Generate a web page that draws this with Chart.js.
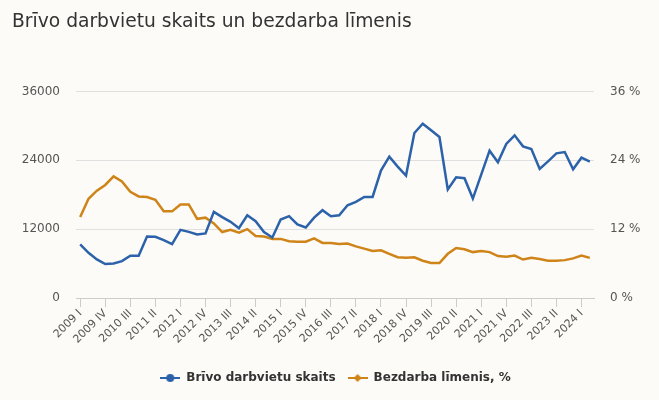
<!DOCTYPE html>
<html>
<head>
<meta charset="utf-8">
<script src="https://cdn.jsdelivr.net/npm/chart.js@4.4.1/dist/chart.umd.min.js"></script>
<style>
    html, body { margin: 0; padding: 0; background: #fcfbf7; }
</style>
</head>
<body>
<canvas id="jobsChart" width="659" height="400"></canvas>
<script>
// Data
const years = [2009, 2010, 2011, 2012, 2013, 2014, 2015, 2016, 2017, 2018, 2019, 2020, 2021, 2022, 2023, 2024];
const quarterNames = ["I", "II", "III", "IV"];
const lastQuarterCount = 2; // 2024 ends at II

const vacancies = [
    9340, 7880, 6730, 5910, 6030, 6430, 7360, 7360,
    10730, 10670, 10090, 9390, 11880, 11530, 11070, 11250,
    15010, 14090, 13270, 12170, 14430, 13390, 11480, 10550,
    13680, 14260, 12810, 12290, 14000, 15300, 14260, 14430,
    16170, 16750, 17620, 17620, 22200, 24640, 22900, 21340,
    28750, 30370, 29220, 28060, 18900, 21040, 20870, 17330,
    21500, 25680, 23650, 26840, 28350, 26430, 25970, 22490,
    23820, 25210, 25440, 22430, 24460, 23770
];

const unemployment = [
    14.1, 17.3, 18.7, 19.7, 21.2, 20.3, 18.5, 17.7,
    17.6, 17.1, 15.1, 15.1, 16.3, 16.3, 13.8, 14.0,
    13.0, 11.5, 11.9, 11.4, 12.0, 10.8, 10.7, 10.3,
    10.3, 9.9, 9.8, 9.8, 10.4, 9.6, 9.6, 9.4,
    9.5, 9.0, 8.6, 8.2, 8.3, 7.7, 7.1, 7.0,
    7.1, 6.5, 6.1, 6.1, 7.7, 8.7, 8.5, 8.0,
    8.2, 8.0, 7.3, 7.2, 7.4, 6.7, 7.0, 6.8,
    6.5, 6.5, 6.6, 6.9, 7.4, 7.0
];

const leftTicks = [0, 12000, 24000, 36000];
const rightTicks = [0, 12, 24, 36];

const labels = [];
years.forEach((y, yi) => {
    const n = yi === years.length - 1 ? lastQuarterCount : 4;
    for (let q = 0; q < n; q++) labels.push(y + " " + quarterNames[q]);
});

const blue = "#2c62aa";
const orange = "#cf8419";
const font = "'DejaVu Sans', Verdana, sans-serif";

// legend symbols: short line with a marker on it
function legendSymbol(color, diamond) {
    const c = document.createElement("canvas");
    c.width = 20;
    c.height = 10;
    const g = c.getContext("2d");
    g.strokeStyle = color;
    g.lineWidth = 2;
    g.beginPath();
    g.moveTo(0, 5);
    g.lineTo(20, 5);
    g.stroke();
    g.fillStyle = color;
    g.beginPath();
    if (diamond) {
        g.moveTo(10, 1);
        g.lineTo(14, 5);
        g.lineTo(10, 9);
        g.lineTo(6, 5);
    } else {
        g.arc(10, 5, 4, 0, Math.PI * 2);
    }
    g.fill();
    return c;
}

const bgPlugin = {
    id: "bg",
    beforeDraw(chart) {
        const ctx = chart.ctx;
        ctx.save();
        ctx.fillStyle = "#fcfbf7";
        ctx.fillRect(0, 0, chart.width, chart.height);
        ctx.restore();
    },
};

const ctx = document.getElementById("jobsChart");

new Chart(ctx, {
    type: "line",
    data: {
        labels: labels,
        datasets: [
            {
                label: "Brīvo darbvietu skaits",
                data: vacancies,
                yAxisID: "y",
                borderColor: blue,
                backgroundColor: blue,
                borderWidth: 2.5,
                pointRadius: 0,
                pointHoverRadius: 0,
                pointStyle: legendSymbol(blue, false),
                tension: 0,
            },
            {
                label: "Bezdarba līmenis, %",
                data: unemployment,
                yAxisID: "y1",
                borderColor: orange,
                backgroundColor: orange,
                borderWidth: 2.5,
                pointRadius: 0,
                pointHoverRadius: 0,
                pointStyle: legendSymbol(orange, true),
                tension: 0,
            },
        ],
    },
    options: {
        responsive: false,
        animation: false,
        devicePixelRatio: 1,
        layout: {
            padding: { left: 12, right: 0, top: 4, bottom: 6 },
        },
        plugins: {
            title: {
                display: true,
                text: "Brīvo darbvietu skaits un bezdarba līmenis",
                align: "start",
                color: "#333333",
                font: { family: font, size: 18.7, weight: "normal" },
                padding: { top: 7, bottom: 58 },
            },
            legend: {
                position: "bottom",
                labels: {
                    usePointStyle: true,
                    pointStyleWidth: 20,
                    color: "#333333",
                    font: { family: font, size: 12, weight: "bold" },
                    padding: 12,
                },
            },
            tooltip: { enabled: false },
        },
        scales: {
            x: {
                offset: true,
                border: { color: "#cccccc" },
                grid: {
                    drawOnChartArea: false,
                    tickLength: 9,
                    tickColor: (c) => (c.index % 3 === 0 ? "#cccccc" : "rgba(0,0,0,0)"),
                },
                ticks: {
                    autoSkip: false,
                    maxRotation: 45,
                    minRotation: 45,
                    color: "#555555",
                    font: { family: font, size: 11 },
                    padding: 0,
                    callback: function (v, i) {
                        return i % 3 === 0 ? this.getLabelForValue(v) : "";
                    },
                },
                afterFit: (s) => { s.height = 62; },
            },
            y: {
                position: "left",
                min: 0,
                max: 36000,
                border: { display: false },
                grid: { color: "#e0e0e0", drawTicks: false },
                afterBuildTicks: (s) => { s.ticks = leftTicks.map((v) => ({ value: v })); },
                ticks: {
                    color: "#555555",
                    font: { family: font, size: 12 },
                    padding: 16,
                    callback: (v) => String(v),
                },
                afterFit: (s) => { s.width = 64; },
            },
            y1: {
                position: "right",
                min: 0,
                max: 36,
                border: { display: false },
                grid: { drawOnChartArea: false, drawTicks: false },
                afterBuildTicks: (s) => { s.ticks = rightTicks.map((v) => ({ value: v })); },
                ticks: {
                    color: "#555555",
                    font: { family: font, size: 12 },
                    padding: 16,
                    callback: (v) => v + " %",
                },
                afterFit: (s) => { s.width = 65; },
            },
        },
    },
    plugins: [bgPlugin],
});
</script>
</body>
</html>
